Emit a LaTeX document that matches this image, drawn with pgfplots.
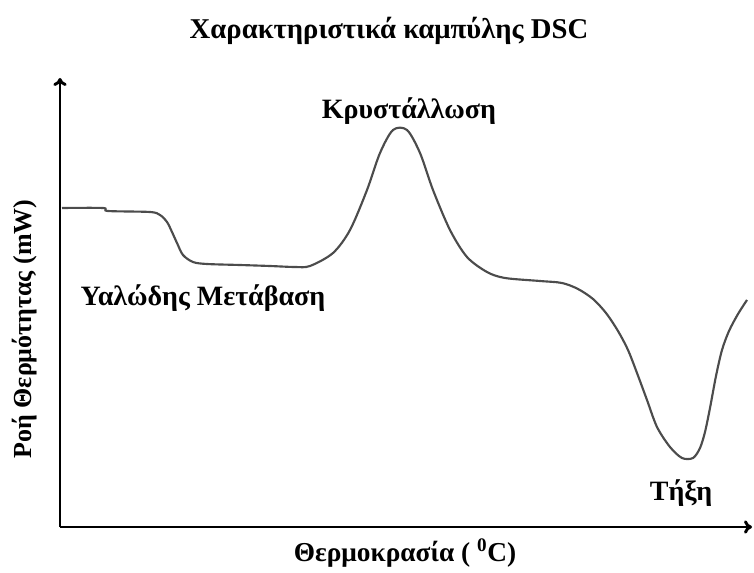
\documentclass[border=0pt]{standalone}
\usepackage{pgfplots}
\pgfplotsset{compat=1.18}
\usetikzlibrary{arrows.meta}
\usepackage{fontspec}
\setmainfont{Liberation Serif}
\begin{document}
\begin{tikzpicture}
\begin{axis}[
  scale only axis, width=519pt, height=336.75pt,
  xmin=60, xmax=752, ymin=45, ymax=494,
  axis x line=bottom, axis y line=left,
  axis line style={line width=2.2pt, -{To[length=6pt,width=10pt]}},
  ticks=none, clip=false,
]
\path[draw=none] (axis cs:0,0) rectangle (axis cs:754,572);
\addplot[smooth, tension=0.5, line width=1.6pt, color=black!70] coordinates {
(62,364) (103,364) (108,361) (150,360) (160,357) (167,350) (172,340) (177,329) (183,317) (193,310) (207,308) (240,307) (270,306) (295,305) (310,306) (333,319) (350,342) (367,382) (380,419) (393,442) (407,442) (420,419) (433,382) (450,342) (467,315) (487,300) (505,294) (540,291) (562,289) (578,283) (593,273) (606,259) (618,241) (628,222) (637,199) (647,172) (657,145) (670,125) (682,114) (693,114) (700,124) (705,140) (710,164) (716,196) (722,222) (729,241) (738,258) (747,272)
};
\node[font=\bfseries\fontsize{21.5}{26}\selectfont] at (axis cs:389,541) {Χαρακτηριστικά καμπύλης DSC};
\node[font=\bfseries\fontsize{21}{25}\selectfont] at (axis cs:409,461) {Κρυστάλλωση};
\node[font=\bfseries\fontsize{21}{25}\selectfont, anchor=west] at (axis cs:76,274) {Υαλώδης Μετάβαση};
\node[font=\bfseries\fontsize{21}{25}\selectfont] at (axis cs:681,79) {Τήξη};
\node[font=\bfseries\fontsize{20.5}{25}\selectfont] at (axis cs:405,19) {Θερμοκρασία ( \textsuperscript{0}C)};
\node[font=\bfseries\fontsize{19.5}{24}\selectfont, rotate=90] at (axis cs:25,243) {Ροή Θερμότητας (mW)};
\end{axis}
\end{tikzpicture}
\end{document}
